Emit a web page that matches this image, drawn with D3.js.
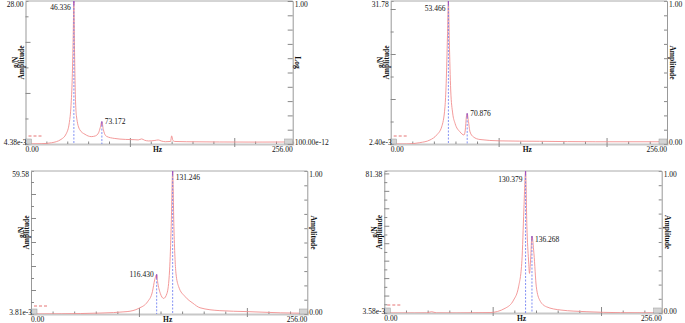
<!DOCTYPE html>
<html>
<head>
<meta charset="utf-8">
<script src="https://cdn.jsdelivr.net/npm/d3@7"></script>
<style>
  body { margin: 0; background: #fff; }
  svg { display: block; }
  text { font-family: "Liberation Serif", "Times New Roman", serif; fill: #111; }
</style>
</head>
<body>
<svg id="chart" width="685" height="323"></svg>
<script>
// ---- data ----
const hz1 = [1, 15, 25, 34, 39, 42, 43.6, 44.8, 45.7, 46.336, 47.0, 47.6, 48.8, 52, 57, 63, 67.1, 70, 71.6, 73.172, 74.5, 75.8, 77.7, 85, 96, 104, 108, 111.3, 114, 118, 124, 127.2, 130, 134, 139, 140, 141.2, 143, 154, 186, 220, 256];
const amp1 = [0.02, 0.06, 0.25, 0.9, 2.0, 4.2, 7.5, 13, 21, 28.0, 18, 11, 5.5, 2.8, 1.9, 1.45, 1.6, 2.2, 3.2, 4.4, 2.9, 2.0, 1.5, 1.1, 0.9, 0.85, 0.8, 1.0, 0.75, 0.6, 0.7, 0.8, 0.6, 0.45, 0.5, 1.6, 0.7, 0.5, 0.45, 0.4, 0.38, 0.4];
const peaks1 = [46.336, 73.172];
const peakAmp1 = [28.0, 4.4];

const hz2 = [1, 15, 27, 36.4, 42.6, 47.2, 50.3, 51.4, 52.6, 53.466, 54.3, 55.6, 57.4, 59.6, 64.2, 67.9, 69.1, 70.1, 70.876, 71.9, 73.5, 76.5, 82.7, 101, 138, 190, 256];
const amp2 = [0.01, 0.02, 0.3, 0.9, 2.0, 3.8, 8.3, 13.5, 24, 31.78, 23, 12, 6.9, 4.6, 2.7, 2.0, 3.1, 6.0, 6.8, 5.3, 2.7, 1.6, 1.0, 0.7, 0.6, 0.5, 0.5];
const peaks2 = [53.466, 70.876];
const peakAmp2 = [31.78, 6.8];

const hz3 = [0, 28, 64, 89, 100, 108, 112.5, 114.6, 116.43, 117.3, 119.8, 122.9, 126, 128.4, 129.9, 131.246, 132.4, 134.3, 136.8, 142.9, 150, 156.6, 175, 200, 231, 256];
const amp3 = [0.02, 0.1, 0.4, 1.0, 2.4, 5.1, 9.3, 14.2, 16.5, 13.5, 8.6, 6.5, 8.6, 18.3, 36.4, 59.58, 36.4, 17, 11.4, 7.2, 4.5, 2.6, 1.4, 1.0, 0.5, 0.3];
const peaks3 = [116.430, 131.246];
const peakAmp3 = [16.5, 59.58];

const hz4 = [0, 28, 39, 43.7, 48, 67, 97.6, 111.5, 119.3, 123.9, 127, 128.8, 130.379, 131.6, 133.1, 134, 135, 136.268, 138.1, 140.3, 143.4, 149.5, 163, 187, 218, 256];
const amp4 = [0.02, 0.05, 0.1, 0.75, 0.1, 0.05, 0.25, 2.7, 7.4, 15, 30, 59, 81.38, 49.5, 30.4, 22.7, 30.4, 44.1, 34, 15, 7.4, 3.6, 1.7, 0.75, 0.2, 0.1];
const peaks4 = [130.379, 136.268];
const peakAmp4 = [81.38, 44.1];

const yMin = [4.38e-3, 2.40e-3, 3.81e-3, 3.58e-3];
const yMax = [28.00, 31.78, 59.58, 81.38];
const yMinLabels = ["4.38e-3", "2.40e-3", "3.81e-3", "3.58e-3"];
const yMaxLabels = ["28.00", "31.78", "59.58", "81.38"];
const xDomain = [0, 256];
const xLabels = ["0.00", "256.00"];
const rightTitles = ["Log", "Amplitude", "Amplitude", "Amplitude"];
const rightTopLabels = ["1.00", "1.00", "1.00", "1.00"];
const rightBottomLabels = ["100.00e-12", "0.00", "0.00", "0.00"];

// ---- layout of the four boxes ----
const panels = [
  { box: { l: 25.5, r: 292.7, t: 1, b: 144 }, hz: hz1, amp: amp1, peaks: peaks1, peakAmp: peakAmp1, labelDy: [6, 0], log: true },
  { box: { l: 390.7, r: 667, t: 1, b: 144 }, hz: hz2, amp: amp2, peaks: peaks2, peakAmp: peakAmp2, labelDy: [7, 0] },
  { box: { l: 31, r: 307.3, t: 171, b: 314 }, hz: hz3, amp: amp3, peaks: peaks3, peakAmp: peakAmp3, labelDy: [0, 6] },
  { box: { l: 384.3, r: 661.7, t: 171, b: 313 }, hz: hz4, amp: amp4, peaks: peaks4, peakAmp: peakAmp4, labelDy: [8, 3] }
];

const svg = d3.select('#chart');
const CURVE = '#f28e8e';
const PEAKLINE = '#5d70f2';

panels.forEach((p, i) => {
  const { l, r, t, b } = p.box;
  const g = svg.append('g');

  const x = d3.scaleLinear().domain(xDomain).range([l, r]);
  const y = d3.scaleLinear().domain([yMin[i], yMax[i]]).range([b, t]);

  // clip
  const clipId = `clip${i}`;
  svg.append('clipPath').attr('id', clipId)
    .append('rect').attr('x', l).attr('y', t - 1).attr('width', r - l).attr('height', b - t + 1);

  // top border
  g.append('line').attr('x1', l).attr('x2', r).attr('y1', t).attr('y2', t)
    .attr('stroke', '#aaa').attr('stroke-width', 1);

  // bottom axis (ticks point inward)
  const bottomMinor = d3.axisBottom(x).tickValues(d3.range(20, 256, 20)).tickSize(-2.5).tickFormat('');
  const ga = g.append('g').attr('transform', `translate(0,${b})`).call(bottomMinor);
  ga.select('.domain').attr('stroke', '#c8c8c8').attr('stroke-width', 2);
  ga.selectAll('.tick line').attr('stroke', '#888');
  ga.selectAll('.tick').filter(d => d === 100 || d === 200).select('line')
    .attr('y1', 3).attr('y2', -6);

  // left axis
  const step = 5;
  const leftAxis = d3.axisLeft(y).tickValues(d3.range(step, yMax[i], step)).tickSize(-3).tickFormat('');
  const gl = g.append('g').attr('transform', `translate(${l},0)`).call(leftAxis);
  gl.select('.domain').attr('stroke', '#999');
  gl.selectAll('.tick line').attr('stroke', '#888');
  gl.selectAll('.tick').filter(d => d % 10 === 0).select('line').attr('x2', 5);

  // right axis
  let yr, rightAxis;
  if (p.log) {
    yr = d3.scaleLog().domain([1e-10, 1]).range([b, t]);
    rightAxis = d3.axisRight(yr).ticks(10).tickSize(-2.5).tickFormat('');
  } else {
    yr = d3.scaleLinear().domain([0, 1]).range([b, t]);
    rightAxis = d3.axisRight(yr).tickValues(d3.range(0.1, 1, 0.1)).tickSize(-3).tickFormat('');
  }
  const gr = g.append('g').attr('transform', `translate(${r},0)`).call(rightAxis);
  gr.select('.domain').attr('stroke', '#999');
  gr.selectAll('.tick line').attr('stroke', '#888');
  if (p.log) {
    gr.selectAll('.tick').filter(d => Math.abs(Math.log10(d) - Math.round(Math.log10(d))) < 1e-6)
      .select('line').attr('x2', -5);
  }

  // spectrum curve
  const pts = p.hz.map((h, k) => [h, p.amp[k]]);
  const line = d3.line().x(d => x(d[0])).y(d => y(d[1])).curve(d3.curveMonotoneX);
  g.append('path').datum(pts)
    .attr('clip-path', `url(#${clipId})`)
    .attr('fill', 'none').attr('stroke', CURVE).attr('stroke-width', 0.9)
    .attr('d', line);

  // peak markers, drawn over the curve
  p.peaks.forEach((f, k) => {
    g.append('line')
      .attr('x1', x(f)).attr('x2', x(f))
      .attr('y1', y(p.peakAmp[k])).attr('y2', b)
      .attr('stroke', PEAKLINE).attr('stroke-width', 0.9)
      .attr('stroke-dasharray', '2,1.5')
      .attr('opacity', 0.85);
    g.append('line')
      .attr('x1', x(f)).attr('x2', x(f))
      .attr('y1', y(p.peakAmp[k])).attr('y2', y(p.peakAmp[k]) + 4)
      .attr('stroke', '#a050c0').attr('stroke-width', 1);
  });

  // peak labels
  p.peaks.forEach((f, k) => {
    g.append('text')
      .attr('x', x(f) + (k === 0 ? -3 : 3))
      .attr('y', y(p.peakAmp[k]) + p.labelDy[k])
      .attr('dy', '0.35em')
      .attr('text-anchor', k === 0 ? 'end' : 'start')
      .style('font-size', '7.5px')
      .text(f.toFixed(3));
  });

  // small grey corner boxes
  [[l, b - 5, 6, 5], [r - 8, b - 5, 8, 5]].forEach(([bx, by, bw, bh]) => {
    g.append('rect').attr('x', bx).attr('y', by).attr('width', bw).attr('height', bh)
      .attr('fill', '#d4d4d4').attr('stroke', '#999').attr('stroke-width', 0.5);
  });

  // little red cursor readout (unreadable in the source, drawn as marks)
  for (let m = 0; m < 3; m++) {
    g.append('line')
      .attr('x1', l + 3 + m * 5).attr('x2', l + 6 + m * 5)
      .attr('y1', b - 8).attr('y2', b - 8)
      .attr('stroke', '#e05050').attr('stroke-width', 0.8);
  }

  // value labels
  const fs = '7.5px';
  g.append('text').attr('x', l - 2).attr('y', t + 3).attr('dy', '0.35em')
    .attr('text-anchor', 'end').style('font-size', fs).text(yMaxLabels[i]);
  g.append('text').attr('x', l + 1).attr('y', b - 2).attr('dy', '0.35em')
    .attr('text-anchor', 'end').style('font-size', fs).text(yMinLabels[i]);
  g.append('text').attr('x', l).attr('y', b + 8)
    .attr('text-anchor', 'start').style('font-size', fs).text(xLabels[0]);
  g.append('text').attr('x', r).attr('y', b + 8)
    .attr('text-anchor', 'end').style('font-size', fs).text(xLabels[1]);
  g.append('text').attr('x', (l + r) / 2 - 1.5).attr('y', b + 8)
    .attr('text-anchor', 'middle').style('font-size', fs).style('font-weight', 'bold').text('Hz');
  g.append('text').attr('x', r + 2).attr('y', t + 3).attr('dy', '0.35em')
    .style('font-size', fs).text(rightTopLabels[i]);
  g.append('text').attr('x', r + 2).attr('y', b - 2).attr('dy', '0.35em')
    .style('font-size', fs).text(rightBottomLabels[i]);

  // axis titles
  const midY = t + (b - t) * 0.43;
  g.append('text')
    .attr('transform', `translate(${l - 10},${midY}) rotate(-90)`)
    .attr('text-anchor', 'middle').attr('dy', '0.35em')
    .style('font-size', fs).style('font-weight', 'bold').text('g/N');
  g.append('text')
    .attr('transform', `translate(${l - 4.5},${midY}) rotate(-90)`)
    .attr('text-anchor', 'middle').attr('dy', '0.35em')
    .style('font-size', fs).style('font-weight', 'bold').text('Amplitude');
  g.append('text')
    .attr('transform', `translate(${r + (i === 0 ? 5 : 6)},${midY}) rotate(90)`)
    .attr('text-anchor', 'middle').attr('dy', '0.35em')
    .style('font-size', fs).style('font-weight', 'bold').text(rightTitles[i]);
});
</script>
</body>
</html>
